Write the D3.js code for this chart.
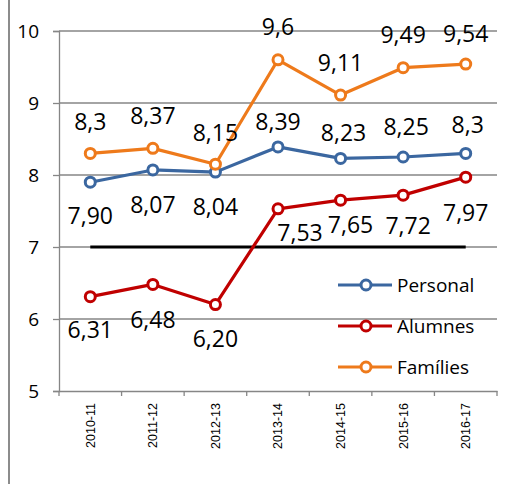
<!DOCTYPE html>
<html>
<head>
<meta charset="utf-8">
<script src="https://cdn.jsdelivr.net/npm/d3@7"></script>
<style>
  body { margin: 0; background: #fff; }
  svg { display: block; }
</style>
</head>
<body>
<script>
// Drawing area
const w = 515;
const h = 484;

// Plot area edges
const plotLeft = 59;
const plotRight = 497;
const plotTop = 31;
const plotBottom = 391;

// Data
const years = ["2010-11", "2011-12", "2012-13", "2013-14", "2014-15", "2015-16", "2016-17"];
const personal = [7.90, 8.07, 8.04, 8.39, 8.23, 8.25, 8.30];
const alumnes = [6.31, 6.48, 6.20, 7.53, 7.65, 7.72, 7.97];
const families = [8.30, 8.37, 8.15, 9.60, 9.11, 9.49, 9.54];
const personalLabels = ["7,90", "8,07", "8,04", "8,39", "8,23", "8,25", "8,3"];
const alumnesLabels = ["6,31", "6,48", "6,20", "7,53", "7,65", "7,72", "7,97"];
const familiesLabels = ["8,3", "8,37", "8,15", "9,6", "9,11", "9,49", "9,54"];
const target = 7;
const yTicks = [5, 6, 7, 8, 9, 10];

// Where each data label sits relative to its point (px)
const personalDx = [0, 0, 0, 0, 3, 3, 2];
const personalDy = [34, 35, 35, -25, -26, -30, -29];
const alumnesDx = [0, 0, 0, 22, 10, 5, 0];
const alumnesDy = [33, 35, 34, 24, 25, 31, 36];
const familiesDx = [0, 0, 0, 0, 0, 0, 0];
const familiesDy = [-32, -33, -31, -33, -32, -33, -30];

const series = [
  { name: "Personal", values: personal, labels: personalLabels, dx: personalDx, dy: personalDy, color: "#3b67a0" },
  { name: "Alumnes", values: alumnes, labels: alumnesLabels, dx: alumnesDx, dy: alumnesDy, color: "#c00000" },
  { name: "Famílies", values: families, labels: familiesLabels, dx: familiesDx, dy: familiesDy, color: "#ee7a1b" }
];

const svg = d3.select("body").append("svg").attr("width", w).attr("height", h);

// Outer frame line on the left
svg.append("line")
  .attr("x1", 9).attr("x2", 9).attr("y1", 0).attr("y2", h)
  .attr("stroke", "#8c8c8c").attr("stroke-width", 2);

const xScale = d3.scaleBand().domain(years).range([plotLeft, plotRight]);
const yScale = d3.scaleLinear().domain([5, 10]).range([plotBottom, plotTop]);
const cx = d => xScale(d) + xScale.bandwidth() / 2;

// Gridlines
svg.append("g")
  .selectAll("line")
  .data(yTicks.filter(t => t > 5))
  .enter()
  .append("line")
  .attr("x1", plotLeft).attr("x2", plotRight)
  .attr("y1", d => yScale(d)).attr("y2", d => yScale(d))
  .attr("stroke", "#868686").attr("stroke-width", 1.3);

// Y axis
const yAxis = d3.axisLeft(yScale).tickValues(yTicks).tickSize(6).tickPadding(14).tickFormat(d3.format("d"));
const gy = svg.append("g").attr("transform", "translate(" + plotLeft + ",0)").call(yAxis);
gy.attr("font-size", null).attr("font-family", null);
gy.select(".domain").attr("stroke", "#868686").attr("stroke-width", 1.3);
gy.selectAll(".tick line").attr("stroke", "#868686").attr("stroke-width", 1.3);
gy.selectAll("text")
  .style("font-family", "Open Sans, sans-serif")
  .style("font-size", "19px")
  .attr("fill", "#000");

// X axis (labels at centers, ticks at band edges)
const xAxis = d3.axisBottom(xScale).tickSize(0).tickPadding(0);
const gx = svg.append("g").attr("transform", "translate(0," + plotBottom + ")").call(xAxis);
gx.attr("font-size", null).attr("font-family", null);
gx.select(".domain").attr("stroke", "#868686").attr("stroke-width", 1.3);
gx.selectAll("text")
  .style("font-family", "Liberation Sans, Arial, sans-serif")
  .style("font-size", "12.5px")
  .attr("fill", "#000")
  .attr("transform", "translate(0,12)rotate(-90)")
  .attr("x", 0).attr("y", 0).attr("dy", "0.35em")
  .style("text-anchor", "end");

const edges = years.map(d => xScale(d)).concat([plotRight]);
svg.append("g")
  .selectAll("line")
  .data(edges)
  .enter()
  .append("line")
  .attr("x1", d => d).attr("x2", d => d)
  .attr("y1", plotBottom).attr("y2", plotBottom + 5)
  .attr("stroke", "#868686").attr("stroke-width", 1.3);

// Reference line at 7
svg.append("line")
  .attr("x1", cx(years[0])).attr("x2", cx(years[years.length - 1]))
  .attr("y1", yScale(target)).attr("y2", yScale(target))
  .attr("stroke", "#000").attr("stroke-width", 3);

const line = d3.line().x((d, i) => cx(years[i])).y(d => yScale(d));

series.forEach(s => {
  const g = svg.append("g");
  g.append("path")
    .datum(s.values)
    .attr("d", line)
    .attr("fill", "none")
    .attr("stroke", s.color)
    .attr("stroke-width", 3.2)
    .attr("stroke-linejoin", "round");
  g.selectAll("circle")
    .data(s.values)
    .enter()
    .append("circle")
    .attr("cx", (d, i) => cx(years[i]))
    .attr("cy", d => yScale(d))
    .attr("r", 5)
    .attr("fill", "#fff")
    .attr("stroke", s.color)
    .attr("stroke-width", 3);
});

// Data labels
series.forEach(s => {
  svg.append("g")
    .selectAll("text")
    .data(s.values)
    .enter()
    .append("text")
    .attr("x", (d, i) => cx(years[i]) + s.dx[i])
    .attr("y", (d, i) => yScale(d) + s.dy[i])
    .attr("dy", "0.36em")
    .attr("text-anchor", "middle")
    .attr("font-family", "Open Sans, sans-serif")
    .attr("font-size", 23)
    .attr("fill", "#000")
    .text((d, i) => s.labels[i]);
});

// Legend
const legend = svg.append("g");
const legendY = d3.scalePoint().domain(series.map(s => s.name)).range([285, 367]);
series.forEach(s => {
  const y = legendY(s.name);
  legend.append("line")
    .attr("x1", 338).attr("x2", 392).attr("y1", y).attr("y2", y)
    .attr("stroke", s.color).attr("stroke-width", 3.2);
  legend.append("circle")
    .attr("cx", 366).attr("cy", y).attr("r", 5)
    .attr("fill", "#fff").attr("stroke", s.color).attr("stroke-width", 3);
  legend.append("text")
    .attr("x", 397).attr("y", y).attr("dy", "0.36em")
    .attr("font-family", "Open Sans, sans-serif")
    .attr("font-size", 19)
    .attr("fill", "#000")
    .text(s.name);
});
</script>
</body>
</html>
